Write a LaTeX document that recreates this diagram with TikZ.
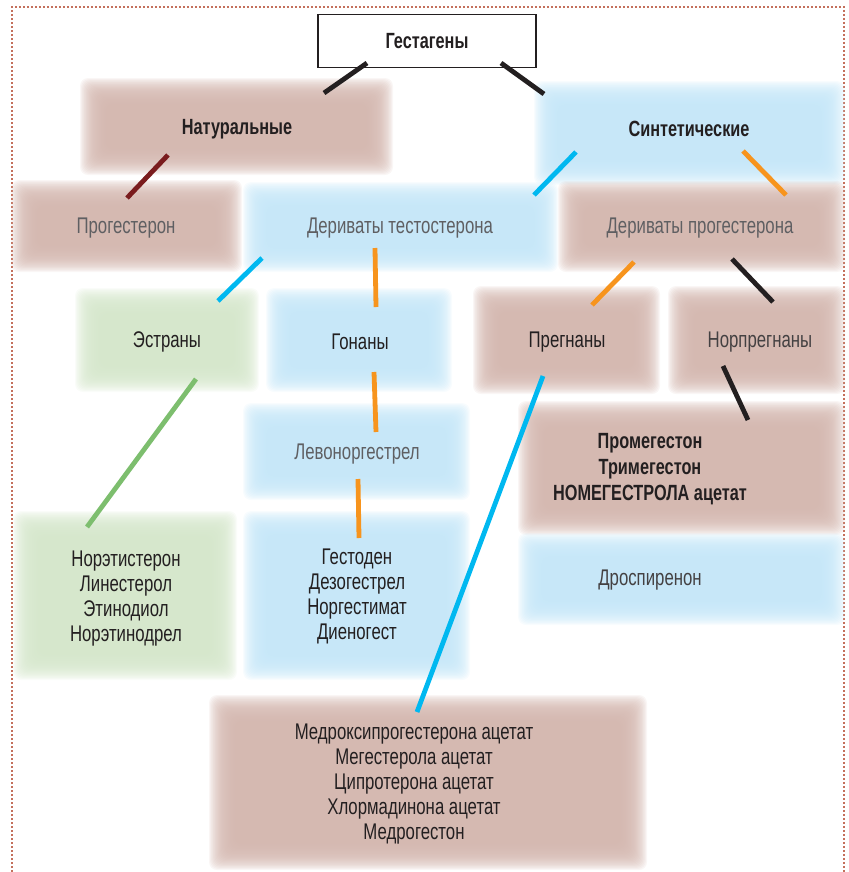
\documentclass[tikz,border=0pt]{standalone}
\usepackage{fontspec}
\setmainfont[FakeStretch=0.74]{Liberation Sans}
\definecolor{brownbox}{RGB}{211,182,174}
\definecolor{bluebox}{RGB}{196,230,248}
\definecolor{greenbox}{RGB}{212,230,202}
\definecolor{txtdark}{RGB}{35,31,32}
\definecolor{txtgray}{RGB}{95,95,98}
\definecolor{lcyan}{RGB}{0,184,240}
\definecolor{lorange}{RGB}{247,148,29}
\definecolor{ldarkred}{RGB}{122,28,30}
\definecolor{lgreen}{RGB}{125,190,110}
\definecolor{dots}{RGB}{196,112,92}
% soft box: colour, x1, y1, x2, y2
\newcommand{\fuzz}[5]{%
  \foreach \i in {0,...,23}
    \fill[#1, opacity=0.12, rounded corners=6pt] (#2+\i*1.1,#3+\i*1.1) rectangle (#4-\i*1.1,#5-\i*1.1);
}
\begin{document}
\begin{tikzpicture}[x=0.75pt,y=-0.75pt,
    lbl/.style={align=center, text=txtdark, font=\fontsize{17}{18.75}\selectfont},
    lblgray/.style={lbl, text=txtgray},
    lblbold/.style={lbl, font=\fontsize{16.5}{19.5}\selectfont\bfseries},
    link/.style={line width=3.6pt}]
\useasboundingbox (0,0) rectangle (849,872);
\draw[dots, line width=1.1pt, dash pattern=on 1.2pt off 1.8pt] (12,872) -- (12,7) -- (844,7) -- (844,872); %frame

% backgrounds
\fuzz{brownbox}{80}{78}{393}{175}
\fuzz{bluebox}{534}{81}{845}{185}
\fuzz{brownbox}{11}{180}{242}{272}
\fuzz{bluebox}{243}{182}{558}{272}
\fuzz{brownbox}{558}{181}{845}{272}
\fuzz{greenbox}{75}{288}{259}{392}
\fuzz{bluebox}{266}{288}{452}{392}
\fuzz{brownbox}{473}{286}{660}{394}
\fuzz{brownbox}{668}{286}{845}{394}
\fuzz{bluebox}{243}{403}{470}{500}
\fuzz{brownbox}{518}{401}{845}{535}
\fuzz{bluebox}{518}{533}{845}{625}
\fuzz{greenbox}{13}{511}{237}{680}
\fuzz{bluebox}{243}{511}{470}{680}
\fuzz{brownbox}{209}{695}{647}{870}

% labels
\node[lblbold, draw=txtdark, line width=0.8pt, fill=white, minimum width=163.5pt, minimum height=40pt] (gest) at (427,41) {Гестагены};
\node[lblbold] (nat) at (237,129) {Натуральные};
\node[lblbold] (synt) at (689,129) {Синтетические};
\node[lblgray] (prog) at (126,228) {Прогестерон};
\node[lblgray] (dtest) at (400,228) {Дериваты тестостерона};
\node[lblgray] (dprog) at (700,228) {Дериваты прогестерона};
\node[lbl] (estr) at (167,342) {Эстраны};
\node[lbl] (gon) at (360,342) {Гонаны};
\node[lbl] (preg) at (567,342) {Прегнаны};
\node[lbl, text=txtdark!85] (norp) at (760,342) {Норпрегнаны};
\node[lblgray] (levo) at (357,454) {Левоноргестрел};
\node[lblbold] (prom) at (650,469) {Промегестон\\Тримегестон\\НОМЕГЕСТРОЛА ацетат};
\node[lbl, text=txtdark!85] (dros) at (650,580) {Дроспиренон};
\node[lbl] (noret) at (126,599) {Норэтистерон\\Линестерол\\Этинодиол\\Норэтинодрел};
\node[lbl] (gesto) at (357,596) {Гестоден\\Дезогестрел\\Норгестимат\\Диеногест};
\node[lbl] (medr) at (414,784) {Медроксипрогестерона ацетат\\Мегестерола ацетат\\Ципротерона ацетат\\Хлормадинона ацетат\\Медрогестон};

% connector ends
\coordinate (g1) at (367,63); \coordinate (g2) at (324,93);
\coordinate (g3) at (501,63); \coordinate (g4) at (544,94);
\coordinate (n1) at (168,155); \coordinate (n2) at (127,198);
\coordinate (s1) at (576,152); \coordinate (s2) at (534,195);
\coordinate (s3) at (743,151); \coordinate (s4) at (786,195);
\coordinate (t1) at (262,258); \coordinate (t2) at (218,301);
\coordinate (t3) at (375,248); \coordinate (t4) at (376,307);
\coordinate (p1) at (634,262); \coordinate (p2) at (592,305);
\coordinate (p3) at (732,259); \coordinate (p4) at (773,302);
\coordinate (e1) at (196,379); \coordinate (e2) at (87,527);
\coordinate (o1) at (374,372); \coordinate (o2) at (376,432);
\coordinate (l1) at (358,479); \coordinate (l2) at (359,538);
\coordinate (r1) at (543,376); \coordinate (r2) at (417,712);
\coordinate (q1) at (723,366); \coordinate (q2) at (748,420);

% connectors
\draw[link, txtdark] (g1) -- (g2);
\draw[link, txtdark] (g3) -- (g4);
\draw[link, ldarkred] (n1) -- (n2);
\draw[link, lcyan] (s1) -- (s2);
\draw[link, lorange] (s3) -- (s4);
\draw[link, lcyan] (t1) -- (t2);
\draw[link, lorange] (t3) -- (t4);
\draw[link, lorange] (p1) -- (p2);
\draw[link, txtdark] (p3) -- (p4);
\draw[link, lgreen] (e1) -- (e2);
\draw[link, lorange] (o1) -- (o2);
\draw[link, lorange] (l1) -- (l2);
\draw[link, lcyan] (r1) -- (r2);
\draw[link, txtdark] (q1) -- (q2);
\end{tikzpicture}
\end{document}
